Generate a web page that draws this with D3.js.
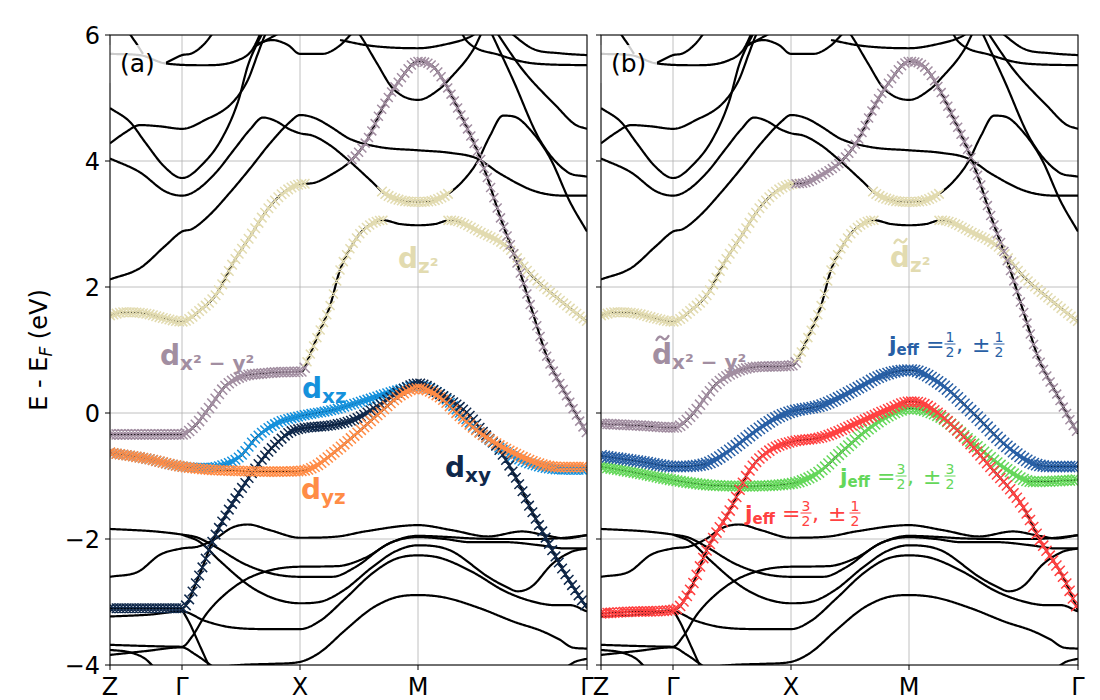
<!DOCTYPE html>
<html><head><meta charset="utf-8">
<script src="https://cdn.jsdelivr.net/npm/d3@7/dist/d3.min.js"></script>
<style>body{margin:0;background:#fff} svg{display:block;font-family:"DejaVu Sans",sans-serif}</style>
</head><body><svg id="chart" width="1100" height="700"></svg>
<script>
// ---------------- DATA ----------------
const kLabels = ["Z", "Γ", "X", "M", "Γ"];
const kTicks = [0, 0.72, 1.90, 3.08, 4.77];
const eTicks = [-4, -2, 0, 2, 4, 6];

// common black bands  [k, E]
const bandT1 = [[0,2.12],[0.3,2.3],[0.55,2.65],[0.72,2.88],[0.82,2.92],[1.0,3.15],[1.2,3.5],[1.4,3.88],[1.6,4.28],[1.8,4.62],[1.9,4.73],[2.05,4.68],[2.2,4.55],[2.4,4.35],[2.7,4.22],[3.08,4.17],[3.4,4.13],[3.67,4.04],[3.9,3.8],[4.25,3.52],[4.55,3.45],[4.77,3.45]];
const bandT2 = [[0,4.04],[0.3,3.82],[0.55,3.52],[0.72,3.45],[0.85,3.52],[1.05,3.8],[1.25,4.2],[1.4,4.5],[1.53,4.69],[1.65,4.64],[1.8,4.5],[1.9,4.44],[2.03,4.4],[2.2,4.25],[2.4,3.99],[2.6,3.7],[2.75,3.48],[2.9,3.38],[3.08,3.35],[3.25,3.38],[3.4,3.5],[3.55,3.72],[3.67,3.98],[3.8,4.4],[3.93,4.72],[4.05,4.7],[4.2,4.5],[4.4,4.05],[4.6,3.35],[4.77,2.88]];
const bandT3 = [[0,4.84],[0.2,4.62],[0.35,4.3],[0.55,3.9],[0.72,3.73],[0.95,3.99],[1.12,4.36],[1.28,4.94],[1.38,5.52],[1.48,5.89],[1.55,6.1]];
const bandT4 = [[0,4.28],[0.15,4.45],[0.3,4.57],[0.5,4.55],[0.72,4.51],[0.95,4.65],[1.22,4.92],[1.38,5.29],[1.48,5.71],[1.55,6.0],[1.58,6.1]];
const bandT5 = [[0.55,5.55],[0.72,5.68],[0.82,5.71],[0.95,5.87],[1.05,6.08]];
const bandT6 = [[0,5.7],[0.3,5.68],[0.55,5.55],[0.95,5.52],[1.28,5.6],[1.42,5.76],[1.52,6.08]];
const bandT6b = [[0.17,6.08],[0.27,5.85],[0.33,5.7]];
const bandT7 = [[1.45,5.85],[1.62,5.92],[1.78,5.84],[1.9,5.7],[2.12,5.7],[2.28,5.81],[2.45,6.08]];
const bandT8 = [[1.45,5.82],[1.6,5.95],[1.75,6.08]];
const bandT9 = [[2.45,6.1],[2.5,6.0],[2.67,5.55],[2.83,5.15],[3.08,4.97],[3.3,5.15],[3.4,5.31],[3.63,5.76],[3.73,6.08]];
const bandT10 = [[2.3,5.92],[2.6,5.83],[3.08,5.79],[3.35,5.85],[3.6,5.97],[3.7,6.08]];
const bandT11 = [[3.85,6.08],[4.13,5.44],[4.47,4.86],[4.65,4.58],[4.77,4.51]];
const bandT12 = [[3.8,6.08],[4.03,5.29],[4.3,4.33],[4.57,3.83],[4.77,3.75]];
const bandT13 = [[3.5,6.08],[3.57,5.9],[3.9,5.68],[4.23,5.55],[4.77,5.52]];
const bandT14 = [[3.97,6.08],[4.23,5.78],[4.5,5.71],[4.77,5.68]];

const bandB1 = [[0,-1.84],[0.45,-1.88],[0.72,-1.93],[0.88,-1.98],[1.05,-2.12],[1.35,-2.4],[1.62,-2.55],[1.9,-2.6],[2.22,-2.6],[2.45,-2.45],[2.78,-2.08],[3.08,-1.95],[3.28,-1.96],[3.62,-1.99],[3.95,-2.0],[4.28,-2.0],[4.55,-1.98],[4.77,-1.94]];
const bandB2 = [[0,-2.6],[0.28,-2.52],[0.5,-2.25],[0.72,-2.15],[0.88,-2.12],[1.05,-2.0],[1.22,-1.82],[1.38,-1.77],[1.6,-1.86],[1.9,-1.98],[2.28,-1.96],[2.55,-1.88],[3.08,-1.78],[3.42,-1.86],[3.78,-1.96],[4.12,-1.88],[4.38,-1.95],[4.55,-1.99],[4.77,-1.94]];
const bandB3 = [[0.72,-1.93],[0.9,-2.05],[1.1,-2.35],[1.4,-2.75],[1.65,-2.95],[1.9,-3.02],[2.12,-2.99],[2.35,-2.8],[2.62,-2.45],[2.85,-2.2],[3.08,-2.1],[3.4,-2.18],[3.78,-2.6],[3.95,-2.75],[4.08,-2.83],[4.22,-2.75],[4.42,-2.4],[4.62,-2.2],[4.77,-2.15]];
const bandB4 = [[0,-3.68],[0.4,-3.7],[0.72,-3.71],[0.82,-3.55],[0.95,-3.22],[1.1,-2.95],[1.35,-2.65],[1.62,-2.49],[1.9,-2.44],[2.28,-2.43],[2.55,-2.3],[2.82,-2.05],[3.08,-1.97],[3.35,-2.0],[3.6,-2.05],[3.95,-2.05],[4.3,-2.1],[4.55,-2.15],[4.77,-2.15]];
const bandB5 = [[0,-3.23],[0.4,-3.2],[0.72,-3.15],[0.95,-3.3],[1.2,-3.4],[1.6,-3.43],[1.9,-3.43],[2.1,-3.3],[2.35,-2.95],[2.62,-2.55],[2.85,-2.32],[3.08,-2.26],[3.3,-2.3],[3.62,-2.52],[3.95,-2.83],[4.22,-2.99],[4.45,-3.05],[4.6,-3.05],[4.77,-3.15]];
const bandB6 = [[1.0,-4.05],[1.3,-4.0],[1.65,-3.98],[1.9,-3.95],[2.1,-3.8],[2.35,-3.45],[2.62,-3.1],[2.85,-2.93],[3.08,-2.89],[3.35,-2.93],[3.7,-3.1],[4.05,-3.32],[4.3,-3.45],[4.5,-3.6],[4.62,-3.72],[4.77,-3.74]];
const bandB7 = [[0.72,-3.12],[0.8,-3.35],[0.9,-3.7],[1.0,-4.05]];
const bandB8 = [[0,-3.76],[0.2,-3.8],[0.35,-3.9],[0.45,-4.05]];
const bandB9 = [[0,-3.84],[0.35,-3.78],[0.72,-3.72],[0.85,-3.83],[1.05,-4.05]];
const bandB10 = [[4.55,-4.05],[4.65,-3.95],[4.77,-3.9]];

// d-like bands
const bandP1 = [[0,1.55],[0.15,1.6],[0.35,1.58],[0.55,1.5],[0.72,1.45],[0.9,1.63],[1.07,1.9],[1.23,2.38],[1.4,2.8],[1.57,3.22],[1.73,3.49],[1.9,3.63],[2.03,3.65],[2.23,3.8],[2.4,3.99],[2.57,4.33],[2.73,4.86],[2.9,5.29],[3.08,5.58],[3.23,5.5],[3.37,5.18],[3.5,4.76],[3.67,4.17],[3.77,3.75],[3.9,3.12],[4.07,2.38],[4.23,1.58],[4.37,0.89],[4.57,0.26],[4.68,-0.08],[4.77,-0.33]];
const bandP2a = [[0,-0.34],[0.4,-0.34],[0.72,-0.34],[0.85,-0.2],[1.0,0.1],[1.15,0.42],[1.3,0.57],[1.55,0.63],[1.75,0.65],[1.92,0.66],[1.98,0.85],[2.07,1.2],[2.2,1.7],[2.3,2.27],[2.43,2.69],[2.53,2.9],[2.73,3.06],[2.9,3.0],[3.08,2.98],[3.25,3.0],[3.4,3.06],[3.73,2.85],[3.97,2.64],[4.23,2.16],[4.5,1.79],[4.77,1.45]];
const bandP2b = [[0,-0.17],[0.39,-0.2],[0.74,-0.23],[0.89,-0.06],[1.16,0.47],[1.39,0.68],[1.7,0.74],[1.92,0.76],[1.98,0.9],[2.07,1.2],[2.2,1.7],[2.3,2.27],[2.43,2.69],[2.53,2.9],[2.73,3.06],[2.9,3.0],[3.08,2.98],[3.25,3.0],[3.4,3.06],[3.73,2.85],[3.97,2.64],[4.23,2.16],[4.5,1.79],[4.77,1.45]];
const bandDxy = [[0,-3.1],[0.4,-3.1],[0.72,-3.1],[0.88,-2.62],[1.03,-2.02],[1.2,-1.5],[1.4,-1.0],[1.57,-0.64],[1.7,-0.43],[1.8,-0.3],[1.9,-0.25],[2.23,-0.19],[2.43,-0.11],[2.67,0.1],[2.9,0.35],[3.08,0.47],[3.3,0.3],[3.57,0.0],[3.73,-0.3],[3.9,-0.6],[4.07,-1.06],[4.2,-1.5],[4.37,-2.02],[4.55,-2.55],[4.77,-3.1]];
const bandDxz = [[0,-0.63],[0.35,-0.72],[0.72,-0.85],[0.95,-0.87],[1.1,-0.84],[1.3,-0.69],[1.47,-0.38],[1.67,-0.16],[1.9,-0.05],[2.23,0.05],[2.57,0.21],[2.85,0.35],[3.08,0.43],[3.3,0.3],[3.5,0.0],[3.73,-0.35],[4.07,-0.72],[4.35,-0.87],[4.55,-0.9],[4.77,-0.9]];
const bandDyz = [[0,-0.63],[0.35,-0.72],[0.72,-0.85],[1.0,-0.9],[1.3,-0.92],[1.6,-0.93],[1.9,-0.92],[2.05,-0.85],[2.23,-0.64],[2.47,-0.32],[2.73,0.05],[2.9,0.28],[3.08,0.39],[3.3,0.25],[3.5,-0.05],[3.73,-0.35],[4.07,-0.66],[4.35,-0.83],[4.55,-0.86],[4.77,-0.86]];
const bandJ12 = [[0,-0.68],[0.39,-0.77],[0.74,-0.85],[1.06,-0.8],[1.29,-0.59],[1.56,-0.27],[1.76,-0.07],[1.9,0.02],[2.22,0.13],[2.56,0.39],[2.82,0.6],[3.09,0.68],[3.39,0.47],[3.72,0.0],[4.06,-0.53],[4.32,-0.8],[4.55,-0.85],[4.77,-0.85]];
const bandJ32a = [[0,-0.85],[0.39,-0.96],[0.74,-1.07],[1.06,-1.14],[1.39,-1.16],[1.9,-1.12],[2.16,-0.96],[2.39,-0.64],[2.66,-0.27],[2.89,-0.03],[3.09,0.07],[3.39,-0.06],[3.72,-0.48],[4.06,-0.9],[4.32,-1.09],[4.55,-1.08],[4.77,-1.06]];
const bandJ32b = [[0,-3.18],[0.4,-3.15],[0.74,-3.12],[0.89,-2.81],[1.06,-2.17],[1.29,-1.54],[1.49,-0.9],[1.69,-0.59],[1.9,-0.46],[2.22,-0.38],[2.56,-0.16],[2.89,0.07],[3.09,0.18],[3.22,0.15],[3.56,-0.27],[3.89,-0.85],[4.22,-1.49],[4.39,-2.02],[4.62,-2.6],[4.77,-3.13]];

const commonBands = [bandT1,bandT2,bandT3,bandT4,bandT5,bandT6,bandT6b,bandT7,bandT8,bandT9,bandT10,bandT11,bandT12,bandT13,bandT14,
  bandB1,bandB2,bandB3,bandB4,bandB5,bandB6,bandB7,bandB8,bandB9,bandB10];

// orbital character: [band, orbital, kStart, kEnd, weight]
const weightsA = [
  [bandP2a, "dx2", 0, 1.95, 0.9], [bandP2a, "dz2", 1.97, 2.75, 0.8], [bandP2a, "dz2", 3.38, 4.77, 0.8],
  [bandP1, "dz2", 0, 1.96, 0.85], [bandP1, "dx2", 2.42, 4.77, 0.8],
  [bandT2, "dz2", 2.72, 3.38, 0.85],
  [bandDxz, "dxz", 0, 4.77, 0.85], [bandDxy, "dxy", 0, 4.77, 0.85], [bandDyz, "dyz", 0, 4.77, 0.9]
];
const weightsB = [
  [bandP2b, "dx2", 0, 1.95, 0.9], [bandP2b, "dz2", 1.97, 2.75, 0.8], [bandP2b, "dz2", 3.38, 4.77, 0.8],
  [bandP1, "dz2", 0, 1.93, 0.85], [bandP1, "dx2", 1.95, 4.77, 0.8],
  [bandT2, "dz2", 2.72, 3.38, 0.85],
  [bandJ32a, "j32a", 0, 4.77, 0.95], [bandJ32b, "j32b", 0, 4.77, 0.9], [bandJ12, "j12", 0, 4.77, 1.0]
];

const colors = {dz2:"#e2dbb0", dx2:"#a28ea1", dxz:"#1591dc", dyz:"#ff8c46", dxy:"#0f284b",
  j12:"#285fa5", j32a:"#64d75a", j32b:"#ff4141"};

// ---------------- HELPERS ----------------
function interpolator(pts){
  const n = pts.length, xs = pts.map(p=>p[0]), ys = pts.map(p=>p[1]);
  const d = [], m = new Array(n).fill(0);
  for (let i=0;i<n-1;i++) d.push((ys[i+1]-ys[i])/(xs[i+1]-xs[i]));
  m[0]=d[0]; m[n-1]=d[n-2];
  for (let i=1;i<n-1;i++) m[i] = d[i-1]*d[i] <= 0 ? 0 : (d[i-1]+d[i])/2;
  for (let i=0;i<n-1;i++){
    if (d[i]===0){ m[i]=0; m[i+1]=0; continue; }
    const a=m[i]/d[i], b=m[i+1]/d[i], s=a*a+b*b;
    if (s>9){ const t=3/Math.sqrt(s); m[i]=t*a*d[i]; m[i+1]=t*b*d[i]; }
  }
  return function(k){
    let i=0; while(i<n-2 && k>xs[i+1]) i++;
    const h=xs[i+1]-xs[i], t=Math.max(0,Math.min(1,(k-xs[i])/h));
    const t2=t*t, t3=t2*t;
    return (2*t3-3*t2+1)*ys[i]+(t3-2*t2+t)*h*m[i]+(-2*t3+3*t2)*ys[i+1]+(t3-t2)*h*m[i+1];
  };
}
function dense(pts, step){
  const f = interpolator(pts), out=[];
  const k0=pts[0][0], k1=pts[pts.length-1][0];
  for (let k=k0;k<k1;k+=step) out.push([k,f(k)]);
  out.push([k1,f(k1)]);
  return out;
}

const svg = d3.select("#chart");
const W = 477, H = 630, Y0 = 35;
const x = d3.scaleLinear().domain([0,4.77]).range([0,W]);
const y = d3.scaleLinear().domain([-4,6]).range([H,0]);
const line = d3.line().x(p=>x(p[0])).y(p=>y(p[1]));
const wScale = d3.scaleLinear().domain([0,1]).range([0,5.6]);

function panel(x0, id, dBands, weights, letter){
  const g = svg.append("g").attr("transform",`translate(${x0},${Y0})`);
  g.append("clipPath").attr("id","clip"+id).append("rect").attr("width",W).attr("height",H);
  // grid
  g.selectAll(".vg").data(kTicks).enter().append("line")
    .attr("x1",d=>x(d)).attr("x2",d=>x(d)).attr("y1",0).attr("y2",H)
    .attr("stroke","#b0b0b0").attr("stroke-width",0.8);
  g.selectAll(".hg").data(eTicks).enter().append("line")
    .attr("x1",0).attr("x2",W).attr("y1",d=>y(d)).attr("y2",d=>y(d))
    .attr("stroke","#b0b0b0").attr("stroke-width",0.8);
  const c = g.append("g").attr("clip-path",`url(#clip${id})`);
  commonBands.concat(dBands).forEach(b=>{
    c.append("path").attr("d",line(dense(b,0.01))).attr("fill","none")
      .attr("stroke","#000").attr("stroke-width",2.2).attr("stroke-linejoin","round");
  });
  // orbital markers
  weights.forEach(([b,orb,k0,k1,w])=>{
    const f = interpolator(b), s = wScale(w);
    let p = "";
    for (let k=k0;k<=k1+1e-9;k+=0.033){
      const px=x(k), py=y(f(k));
      p += `M${px-s},${py-s}L${px+s},${py+s}M${px-s},${py+s}L${px+s},${py-s}`;
    }
    c.append("path").attr("d",p).attr("fill","none").attr("stroke",colors[orb]).attr("stroke-width",1.5);
  });
  // label box
  g.append("rect").attr("x",-2).attr("y",10).attr("width",58).attr("height",38)
    .attr("fill","#fff").attr("fill-opacity",0.8);
  g.append("text").attr("x",10).attr("y",37).attr("font-size",25).attr("fill","#000").text(letter);
  // frame
  g.append("rect").attr("width",W).attr("height",H).attr("fill","none").attr("stroke","#000").attr("stroke-width",1);
  // ticks
  g.selectAll(".yt").data(eTicks).enter().append("line")
    .attr("x1",-5).attr("x2",0).attr("y1",d=>y(d)).attr("y2",d=>y(d)).attr("stroke","#000");
  g.selectAll(".xt").data(kTicks).enter().append("line")
    .attr("x1",d=>x(d)).attr("x2",d=>x(d)).attr("y1",H).attr("y2",H+5).attr("stroke","#000");
  g.selectAll(".xl").data(kTicks).enter().append("text")
    .attr("x",d=>x(d)).attr("y",H+30).attr("text-anchor","middle").attr("font-size",24)
    .text((d,i)=>kLabels[i]);
  return g;
}

const ga = panel(110, "a", [bandP1,bandP2a,bandDxy,bandDxz,bandDyz], weightsA, "(a)");
const gb = panel(601, "b", [bandP1,bandP2b,bandJ12,bandJ32a,bandJ32b], weightsB, "(b)");

// y tick labels (panel a only)
ga.selectAll(".yl").data(eTicks).enter().append("text")
  .attr("x",-10).attr("y",d=>y(d)).attr("dy","0.36em").attr("text-anchor","end").attr("font-size",24)
  .text(d=>d<0 ? "\u2212"+Math.abs(d) : d);

// y axis label
const yl = svg.append("text").attr("transform","translate(47,350) rotate(-90)")
  .attr("text-anchor","middle").attr("font-size",24);
yl.append("tspan").text("E - E");
yl.append("tspan").attr("font-size",17).attr("font-style","italic").attr("dy",5).text("F");
yl.append("tspan").attr("dy",-5).text(" (eV)");

// orbital labels
function dLabel(xp, yp, sub, color, tilde){
  const t = svg.append("text").attr("x",xp).attr("y",yp).attr("fill",color)
    .attr("font-weight","bold").attr("font-size",28);
  t.append("tspan").text("d");
  t.append("tspan").attr("font-size",20).attr("dy",5).text(sub);
  if (tilde){
    const cx = xp+10.5, cy = yp-26;
    svg.append("path")
      .attr("d",`M${cx-6},${cy+2}Q${cx-3},${cy-3.5} ${cx},${cy}T${cx+6},${cy-2}`)
      .attr("fill","none").attr("stroke",color).attr("stroke-width",2.4).attr("stroke-linecap","round");
  }
}
dLabel(398, 268, "z²", colors.dz2, false);
dLabel(160, 365, "x² − y²", colors.dx2, false);
dLabel(302, 398, "xz", colors.dxz, false);
dLabel(301, 499, "yz", colors.dyz, false);
dLabel(445, 477, "xy", colors.dxy, false);
dLabel(890, 267, "z²", colors.dz2, true);
dLabel(652, 364, "x² − y²", colors.dx2, true);

function frac(cx, bar, num, den, color){
  svg.append("text").attr("x",cx).attr("y",bar-2).attr("text-anchor","middle").attr("font-size",14).attr("fill",color).text(num);
  svg.append("line").attr("x1",cx-5.5).attr("x2",cx+5.5).attr("y1",bar).attr("y2",bar).attr("stroke",color).attr("stroke-width",1);
  svg.append("text").attr("x",cx).attr("y",bar+13).attr("text-anchor","middle").attr("font-size",14).attr("fill",color).text(den);
}
function jLabel(x0, base, n1, n2, color){
  const t = svg.append("text").attr("x",x0).attr("y",base).attr("fill",color).attr("font-size",22);
  t.append("tspan").attr("font-weight","bold").text("j");
  t.append("tspan").attr("font-weight","bold").attr("font-size",15).attr("dy",3).text("eff");
  svg.append("text").attr("x",x0+37).attr("y",base).attr("fill",color).attr("font-size",22).text("=");
  frac(x0+61, base-8, n1, "2", color);
  svg.append("text").attr("x",x0+67).attr("y",base).attr("fill",color).attr("font-size",22).text(",");
  svg.append("text").attr("x",x0+83).attr("y",base).attr("fill",color).attr("font-size",22).text("±");
  frac(x0+110, base-8, n2, "2", color);
}
jLabel(889, 352, "1", "1", colors.j12);
jLabel(840, 484, "3", "3", colors.j32a);
jLabel(745, 521, "3", "1", colors.j32b);
</script></body></html>
